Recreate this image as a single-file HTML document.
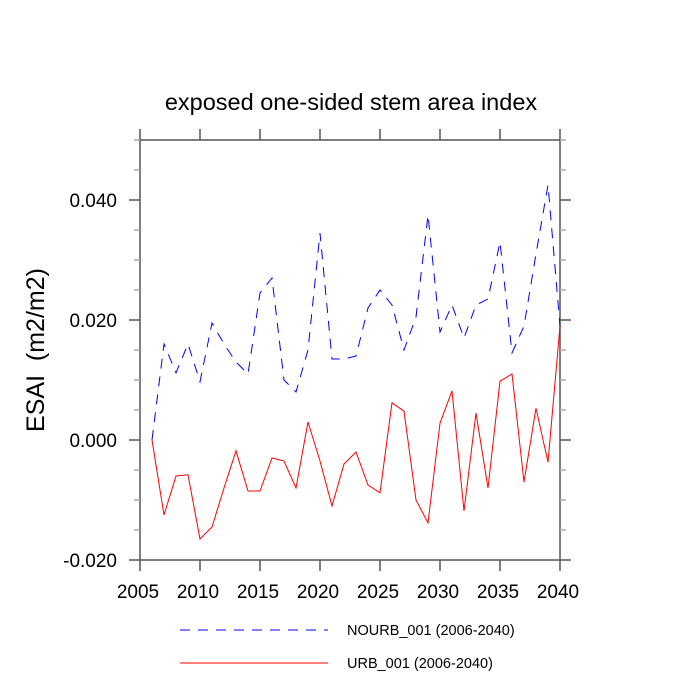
<!DOCTYPE html>
<html><head><meta charset="utf-8"><style>body{margin:0;background:#fff}svg{display:block;font-family:"Liberation Sans",sans-serif}</style></head>
<body>
<svg id="c" width="700" height="700">
<text x="351" y="110" font-size="23.5" text-anchor="middle">exposed one-sided stem area index</text>
<text transform="translate(44,350) rotate(-90)" font-size="25" text-anchor="middle" xml:space="preserve">ESAI  (m2/m2)</text>
<g id="axes"></g><g id="series"></g>
<g>
<line x1="180" y1="630" x2="328" y2="630" stroke="#0000ff" stroke-dasharray="10,8"/>
<text x="347" y="635" font-size="14.5">NOURB_001 (2006-2040)</text>
<line x1="180" y1="663" x2="328" y2="663" stroke="#ff0000"/>
<text x="347" y="668" font-size="14.5">URB_001 (2006-2040)</text>
</g>
</svg>
<script>
const years=[2006,2007,2008,2009,2010,2011,2012,2013,2014,2015,2016,2017,2018,2019,2020,2021,2022,2023,2024,2025,2026,2027,2028,2029,2030,2031,2032,2033,2034,2035,2036,2037,2038,2039,2040];
const nourb=[0,.016,.0112,.016,.0097,.0195,.016,.013,.011,.0245,.027,.010,.008,.015,.0345,.0135,.0135,.014,.022,.025,.0225,.015,.0205,.0375,.018,.0225,.017,.0225,.0235,.033,.0145,.019,.031,.0425,.019];
const urb=[0,-.0125,-.006,-.0058,-.0165,-.0145,-.008,-.0018,-.0085,-.0085,-.003,-.0035,-.008,.003,-.0035,-.011,-.004,-.002,-.0075,-.0088,.0062,.0048,-.010,-.0138,.0028,.0082,-.0118,.0045,-.008,.0098,.011,-.007,.0053,-.0037,.019];
const xTicks=[2005,2010,2015,2020,2025,2030,2035,2040];
const yTicks=[-0.02,0,0.02,0.04];
const yTickLabels=["-0.020","0.000","0.020","0.040"];
const X0=140,X1=560,Y0=140,Y1=560,xmin=2005,xmax=2040,ymin=-0.02,ymax=0.05;
const sx=v=>X0+(v-xmin)/(xmax-xmin)*(X1-X0);
const sy=v=>Y1-(v-ymin)/(ymax-ymin)*(Y1-Y0);
const NS="http://www.w3.org/2000/svg";
function mk(t,a,p){const e=document.createElementNS(NS,t);for(const k in a)e.setAttribute(k,a[k]);p.appendChild(e);return e;}
const ax=document.getElementById('axes'),se=document.getElementById('series');
const AC='#555';
const fr=mk('rect',{x:X0,y:Y0,width:X1-X0,height:Y1-Y0,fill:'none',stroke:AC,'stroke-width':1.5},ax);


xTicks.forEach(t=>{const x=sx(t);
 mk('line',{x1:x,y1:Y1,x2:x,y2:Y1+11,stroke:AC,'stroke-width':1.5},ax);mk('line',{x1:x,y1:Y0,x2:x,y2:Y0-11,stroke:AC,'stroke-width':1.5},ax);
 const e=mk('text',{x:x-2,y:Y1+38,'font-size':19,'text-anchor':'middle'},ax);e.textContent=t;
 
 });
for(let k=0;k<=14;k++){const v=ymin+k*0.005;const y=sy(v);const maj=k%4===0;const L=maj?11:6;
 mk('line',{x1:X0,y1:y,x2:X0-L,y2:y,stroke:maj?AC:'#aaa','stroke-width':1.5},ax);mk('line',{x1:X1,y1:y,x2:X1+L,y2:y,stroke:maj?AC:'#aaa','stroke-width':1.5},ax);}
yTicks.forEach((t,i)=>{const e=mk('text',{x:117,y:sy(t)+7,'font-size':19,'text-anchor':'end'},ax);e.textContent=yTickLabels[i];
 
 });
const pts=a=>a.map((v,i)=>sx(years[i])+','+sy(v)).join(' ');
const b=mk('polyline',{points:pts(nourb),fill:'none',stroke:'#0000ff','stroke-dasharray':'10,8'},se);


const r=mk('polyline',{points:pts(urb),fill:'none',stroke:'#ff0000'},se);


</script>
</body></html>
